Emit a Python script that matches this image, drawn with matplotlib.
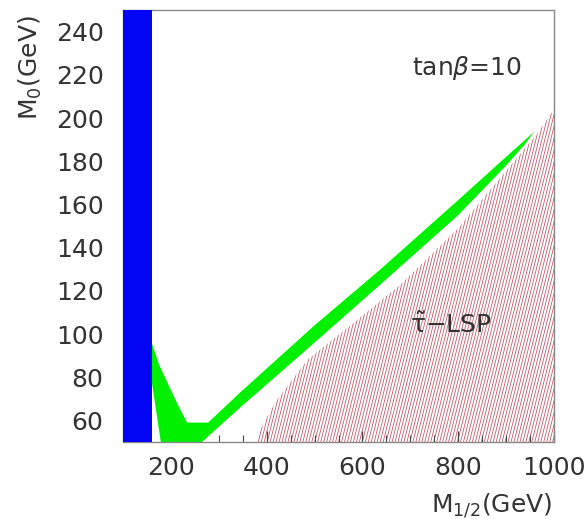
import numpy as np
import matplotlib
matplotlib.use("Agg")
import matplotlib.pyplot as plt
from matplotlib.patches import Polygon
from matplotlib.collections import LineCollection

plt.rcParams['font.family'] = ['DejaVu Sans']
plt.rcParams['mathtext.fontset'] = 'dejavusans'
plt.rcParams['mathtext.default'] = 'regular'

# LEP chargino bound on M_1/2 (GeV)
lep_limit = 160

# relic density allowed strip: upper edge (left -> right) and lower edge (right -> left)
green_up_m12 = [160, 175, 198, 215, 234, 278, 345, 500, 638, 800, 900, 958]
green_up_m0 = [96, 86, 75, 67, 59, 59, 73, 104, 130, 162, 182, 193.5]
green_lo_m12 = [940, 900, 800, 638, 500, 345, 265, 179, 160]
green_lo_m0 = [188, 178, 155, 123, 96, 66, 50, 50, 78]

# stau LSP region boundary
stau_m12 = [380, 387, 420, 485, 575, 680, 800, 966, 1000, 1000]
stau_m0 = [50, 56, 69, 88, 104, 123, 149, 193, 204, 50]

xticks = [200, 400, 600, 800, 1000]
yticks = [60, 80, 100, 120, 140, 160, 180, 200, 220, 240]

fig = plt.figure(figsize=(5.88, 5.19), dpi=100)
ax = fig.add_axes([123 / 588, 77 / 519, 431 / 588, 432 / 519])
ax.set_xlim(100, 1000)
ax.set_ylim(50, 250)

# blue excluded band
ax.axvspan(100, lep_limit, color='#0505f5', lw=0, zorder=3)

# green strip
pts = list(zip(green_up_m12, green_up_m0)) + list(zip(green_lo_m12, green_lo_m0))
ax.add_patch(Polygon(pts, closed=True, facecolor='#00f000', edgecolor='none', zorder=2))

# hatched stau-LSP region: steep thin red lines clipped to the region
stau = Polygon(list(zip(stau_m12, stau_m0)), closed=True, facecolor='none',
               edgecolor='none', zorder=1)
ax.add_patch(stau)
offs = np.arange(0.3, 1.05, 0.0069)
segs = [[(c, 0), (c + 0.25, 1)] for c in offs]
lc = LineCollection(segs, colors='#cc5a6a', linewidths=0.6,
                    transform=ax.transAxes, zorder=1)
lc.set_clip_path(stau)
ax.add_collection(lc)

ax.set_xticks(xticks)
ax.set_yticks(yticks)
ax.set_xticks(np.arange(150, 1000, 50), minor=True)
ax.tick_params(axis='x', which='major', direction='in', length=8, width=0.9,
               color='#444444', pad=10, labelsize=18, labelcolor='#333333')
ax.tick_params(axis='x', which='minor', direction='in', length=5, width=0.8,
               color='#444444')
ax.tick_params(axis='y', which='both', length=0, pad=14, labelsize=18,
               labelcolor='#333333')
for s in ax.spines.values():
    s.set_color('#888888')
    s.set_linewidth(1.0)

ax.text(0.67, 0.85, r'tan$\mathit{\beta}$=10', transform=ax.transAxes,
        fontsize=18, color='#333333', ha='left', va='baseline')
ax.text(0.666, 0.252, r'$\tilde{\tau}$$-$LSP', transform=ax.transAxes,
        fontsize=18, color='#333333', ha='left', va='baseline')

fig.text(552 / 588, 7 / 519, r'M$_{1/2}$(GeV)', fontsize=18, color='#333333',
         ha='right', va='baseline')
fig.text(30 / 588, 1 - 15 / 519, r'M$_0$(GeV)', fontsize=18, color='#333333',
         rotation=90, ha='center', va='top')

fig.savefig('out.png', dpi=100, facecolor='white')
